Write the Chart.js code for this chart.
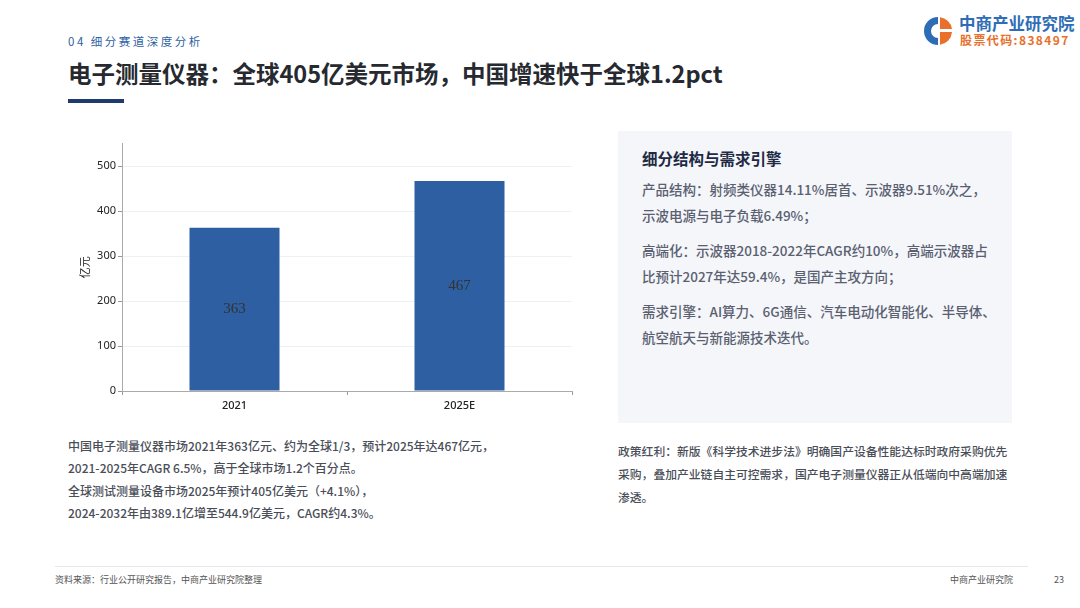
<!DOCTYPE html>
<html><head><meta charset="utf-8">
<script src="https://cdn.jsdelivr.net/npm/chart.js@4"></script>
<style>
html,body{margin:0;padding:0;background:#fff;}
body{width:1080px;height:608px;position:relative;overflow:hidden;font-family:"Noto Sans CJK SC","Noto Sans",sans-serif;}
.abs{position:absolute;white-space:nowrap;}
#sec{left:68px;top:33px;font-size:11.5px;letter-spacing:2.5px;color:#2E5FA3;}
#title{left:68px;top:58px;font-size:23.5px;font-weight:700;color:#262a30;line-height:30px;}
#bar{left:68px;top:99px;width:56px;height:4px;background:#1F3A6E;}
#logoT1{left:959px;top:12px;font-size:16.5px;font-weight:700;color:#2E6DB5;line-height:22px;}
#logoT2{left:960px;top:32px;font-size:12px;font-weight:700;color:#E8702A;letter-spacing:1.4px;line-height:16px;}
#panel{left:618px;top:131px;width:394px;height:292px;background:#F4F6FA;}
#ptitle{left:642px;top:147px;font-size:15.5px;font-weight:700;color:#1f2a44;line-height:22px;}
.pl{font-size:13.5px;color:#5a6070;line-height:26px;font-weight:500;}
.bl{font-size:12px;color:#4a4e58;line-height:22.3px;font-weight:500;}
.rl{font-size:11.8px;color:#4a4e58;line-height:23px;font-weight:500;}
#fline{left:55px;top:566px;width:973px;height:1px;background:#e4e7ee;}
.ft{font-size:9px;color:#555;top:574px;line-height:12px;}
#chartBox{position:absolute;left:60px;top:135px;width:520px;height:285px;}
</style></head>
<body>
<div class="abs" id="sec">04 细分赛道深度分析</div>
<div class="abs" id="title">电子测量仪器：全球405亿美元市场，中国增速快于全球1.2pct</div>
<div class="abs" id="bar"></div>
<svg class="abs" style="left:922px;top:15px" width="32" height="32" viewBox="0 0 32 32">
  <path d="M16 2 A14 14 0 1 0 16 30 L16 23 A7 7 0 1 1 16 9 Z" fill="#2E6DB5"/>
  <path d="M18 2.2 A14 14 0 0 1 30 14 L18 14 Z" fill="#E8702A"/>
  <path d="M18 17 L30 17 A14 14 0 0 1 18 29.8 Z" fill="#E8702A"/>
</svg>
<div class="abs" id="logoT1">中商产业研究院</div>
<div class="abs" id="logoT2">股票代码:838497</div>

<div class="abs" id="panel"></div>
<div class="abs" id="ptitle">细分结构与需求引擎</div>
<div class="abs pl" style="left:642px;top:176px">产品结构：射频类仪器14.11%居首、示波器9.51%次之，<br>示波电源与电子负载6.49%；</div>
<div class="abs pl" style="left:642px;top:237px">高端化：示波器2018-2022年CAGR约10%，高端示波器占<br>比预计2027年达59.4%，是国产主攻方向；</div>
<div class="abs pl" style="left:642px;top:298px">需求引擎：AI算力、6G通信、汽车电动化智能化、半导体、<br>航空航天与新能源技术迭代。</div>

<div class="abs bl" style="left:68px;top:435px">中国电子测量仪器市场2021年363亿元、约为全球1/3，预计2025年达467亿元，<br>2021-2025年CAGR 6.5%，高于全球市场1.2个百分点。<br>全球测试测量设备市场2025年预计405亿美元（+4.1%），<br>2024-2032年由389.1亿增至544.9亿美元，CAGR约4.3%。</div>
<div class="abs rl" style="left:618px;top:439px">政策红利：新版《科学技术进步法》明确国产设备性能达标时政府采购优先<br>采购，叠加产业链自主可控需求，国产电子测量仪器正从低端向中高端加速<br>渗透。</div>

<div class="abs" id="fline"></div>
<div class="abs ft" style="left:55px">资料来源：行业公开研究报告，中商产业研究院整理</div>
<div class="abs ft" style="left:950px">中商产业研究院</div>
<div class="abs ft" style="left:1054px">23</div>

<div id="chartBox"><canvas id="c"></canvas></div>
<script>
const categories = ["2021", "2025E"];
const marketValues = [363, 467];
const yAxisTitle = "亿元";

const barLabels = {
  id: 'barLabels',
  afterDatasetsDraw(chart) {
    const ctx = chart.ctx;
    const meta = chart.getDatasetMeta(0);
    ctx.save();
    ctx.font = '15px "Liberation Serif", serif';
    ctx.fillStyle = '#333';
    ctx.textAlign = 'center';
    ctx.textBaseline = 'middle';
    meta.data.forEach((bar, i) => {
      const p = bar.getProps(['x','y','base'], true);
      ctx.fillText(String(marketValues[i]), p.x, (p.y + p.base) / 2);
    });
    ctx.restore();
  }
};

new Chart(document.getElementById('c'), {
  type: 'bar',
  data: {
    labels: categories,
    datasets: [{
      data: marketValues,
      backgroundColor: '#2E5FA3',
      borderWidth: 0,
      barPercentage: 0.5,
      categoryPercentage: 0.8
    }]
  },
  options: {
    responsive: true,
    maintainAspectRatio: false,
    animation: false,
    layout: { padding: { top: 8, right: 8, left: 0, bottom: 0 } },
    plugins: { legend: { display: false }, tooltip: { enabled: false } },
    scales: {
      x: {
        grid: { drawOnChartArea: false, tickLength: 4, tickColor: '#999', offset: true },
        border: { color: '#aaa' },
        ticks: { color: '#222', font: { family: '"Noto Sans", sans-serif', size: 11, weight: '500' }, padding: 4 },
        afterFit(s) { s.height = 29; }
      },
      y: {
        min: 0, max: 550,
        grid: { color: '#edf0f6', tickLength: 4, tickColor: '#999' },
        border: { color: '#aaa' },
        ticks: { stepSize: 100, includeBounds: false, color: '#222', font: { family: '"Noto Sans", sans-serif', size: 11 }, padding: 2 },
        title: { display: true, text: yAxisTitle, color: '#222', font: { family: '"Noto Sans CJK SC", sans-serif', size: 11 }, padding: { top: 18, bottom: 0 } },
        afterFit(s) { s.width = 62; }
      }
    }
  },
  plugins: [barLabels]
});
</script>
</body></html>
